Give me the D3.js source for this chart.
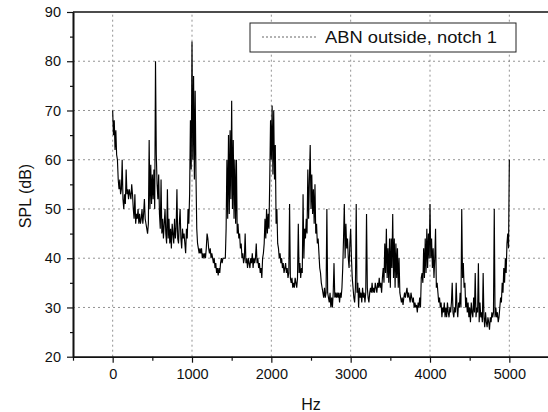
<!DOCTYPE html>
<html>
<head>
<meta charset="utf-8">
<script src="https://cdn.jsdelivr.net/npm/d3@7"></script>
<style>
  body { margin: 0; background: #fff; }
  text { font-family: "Liberation Sans", Arial, sans-serif; fill: #111; }
</style>
</head>
<body>
<div id="chart"></div>
<script>
// spectrum, one value per 10 Hz bin, 200 Hz per row
const binStart = 0;
const binStep = 10;
const splRows = [
  [70, 65, 68, 62, 66, 61, 60, 56, 54, 56, 53, 54, 60, 52, 50, 53, 51, 58, 53, 54],
  [52, 54, 53, 52, 55, 53, 50, 48, 53, 47, 49, 48, 50, 47, 49, 47, 48, 50, 47, 49],
  [52, 48, 47, 46, 45, 47, 64, 50, 59, 51, 57, 52, 58, 50, 80, 61, 55, 52, 57, 49],
  [46, 56, 45, 48, 44, 47, 50, 45, 43, 54, 44, 48, 43, 46, 42, 47, 45, 43, 48, 44],
  [46, 54, 44, 43, 47, 50, 44, 42, 46, 44, 45, 43, 41, 46, 44, 50, 47, 53, 68, 58],
  [84, 60, 77, 56, 74, 57, 46, 43, 42, 41, 42, 41, 42, 40, 41, 40, 41, 40, 42, 45],
  [44, 42, 41, 42, 40, 41, 40, 39, 40, 38, 39, 37, 38, 36.5, 38, 37, 39, 40, 39, 40],
  [40, 40, 40, 46, 60, 48, 65, 49, 66, 52, 72, 50, 64, 48, 60, 47, 60, 45, 47, 44],
  [45, 42, 43, 40, 41, 39, 40, 45, 39, 40, 38, 40, 39, 38, 40, 39, 41, 38, 40, 39],
  [40, 43, 39, 40, 38, 39, 37, 38, 36, 40, 41, 43, 48, 44, 50, 45, 49, 46, 56, 68],
  [60, 71, 57, 70, 56, 63, 47, 50, 43, 42, 40, 41, 39, 40, 38, 39, 37, 38, 39, 37],
  [38, 36, 37, 51, 36, 35, 36, 34, 35, 34, 36, 35, 34, 36, 47, 37, 39, 36, 38, 37],
  [53, 40, 46, 44, 48, 45, 58, 48, 56, 63, 50, 57, 49, 54, 47, 55, 45, 47, 43, 44],
  [41, 38, 37, 35, 34, 33, 32, 34, 32, 33, 50, 33, 32, 31, 33, 30, 32, 30, 33, 39],
  [32, 33, 32, 33, 32, 33, 31, 33, 32, 34, 38, 44, 51, 40, 47, 42, 44, 40, 38, 43],
  [46, 40, 36, 34, 32, 31, 34, 51, 33, 35, 30, 34, 32, 33, 31, 34, 32, 33, 31, 33],
  [49, 34, 32, 31, 33, 34, 33, 35, 33, 34, 33, 35, 34, 33, 35, 34, 36, 34, 35, 33],
  [36, 38, 35, 43, 37, 46, 36, 42, 35, 44, 34, 44, 38, 49, 36, 44, 34, 43, 36, 42],
  [34, 40, 33, 32, 31, 32, 30.5, 32, 33, 32, 33, 34, 32, 33, 32, 31, 33, 32, 31, 32],
  [30, 31, 30, 30.5, 29, 31, 30, 32, 30, 36, 37, 35, 42, 36, 44, 37, 46, 38, 45, 40],
  [51, 40, 44, 38, 42, 36, 40, 46, 34, 35, 33, 31, 32, 30, 31, 28, 30, 29, 31, 28],
  [30, 28, 31, 29, 28, 30, 29, 31, 35, 29, 28, 30, 29, 35, 30, 28, 31, 30, 33, 30],
  [50, 36, 39, 34, 35, 30, 32, 29, 31, 28, 30, 27, 31, 29, 28, 32, 29, 37, 28, 30],
  [29, 39, 27, 31, 28, 29, 27, 37, 28, 26, 29, 27, 26, 28, 27, 25.5, 28, 27, 29, 28],
  [29, 50, 28, 30, 28, 29, 27, 28, 30, 32, 31, 35, 33, 38, 35, 40, 37, 43, 45, 42],
  [60]
];
const spl = splRows.flat();

const xMajor = [0, 1000, 2000, 3000, 4000, 5000];
const xMinor = [-500, 500, 1500, 2500, 3500, 4500];
const yMajor = [20, 30, 40, 50, 60, 70, 80, 90];
const yMinor = [25, 35, 45, 55, 65, 75, 85];
const xGrid = [0, 1000, 2000, 3000, 4000, 5000];
const yGrid = [30, 40, 50, 60, 70, 80];
const legendLabel = "ABN outside, notch 1";

const W = 548, H = 412;
const plotLeft = 73, plotRight = 549, plotTop = 12, plotBottom = 356.7;

const svg = d3.select("#chart").append("svg")
    .attr("width", W)
    .attr("height", H);

const x = d3.scaleLinear().domain([-500, 5500]).range([plotLeft, plotRight]);
const y = d3.scaleLinear().domain([20, 90]).range([plotBottom, plotTop]);

// grid
svg.append("g").selectAll("line").data(xGrid).enter().append("line")
    .attr("x1", d => x(d)).attr("x2", d => x(d))
    .attr("y1", y(20)).attr("y2", y(90))
    .attr("stroke", "#777").attr("stroke-width", 0.8)
    .attr("stroke-dasharray", "2,3");
svg.append("g").selectAll("line").data(yGrid).enter().append("line")
    .attr("x1", x(-500)).attr("x2", x(5500))
    .attr("y1", d => y(d)).attr("y2", d => y(d))
    .attr("stroke", "#777").attr("stroke-width", 0.8)
    .attr("stroke-dasharray", "2,3");

// spectrum
const line = d3.line()
    .x((d, i) => x(binStart + i * binStep))
    .y(d => y(d));

svg.append("path")
    .datum(spl)
    .attr("d", line)
    .attr("fill", "none")
    .attr("stroke", "#000")
    .attr("stroke-width", 1.15)
    .attr("stroke-linejoin", "miter");

// frame top / right
svg.append("line").attr("x1", plotLeft).attr("x2", plotRight).attr("y1", plotTop).attr("y2", plotTop)
    .attr("stroke", "#111").attr("stroke-width", 1.4);
svg.append("line").attr("x1", plotRight).attr("x2", plotRight).attr("y1", plotTop).attr("y2", plotBottom)
    .attr("stroke", "#111").attr("stroke-width", 1.4);

// axes
const fmt = d3.format("d");
svg.append("g")
    .attr("transform", `translate(0,${plotBottom})`)
    .call(d3.axisBottom(x).tickValues(xMajor).tickFormat(fmt).tickSize(6).tickSizeOuter(0).tickPadding(6));
svg.append("g")
    .attr("transform", `translate(0,${plotBottom})`)
    .call(d3.axisBottom(x).tickValues(xMinor).tickSize(4).tickSizeOuter(0).tickFormat(""));

svg.append("g")
    .attr("transform", `translate(${plotLeft},0)`)
    .call(d3.axisLeft(y).tickValues(yMajor).tickFormat(fmt).tickSize(6).tickSizeOuter(0).tickPadding(6));
svg.append("g")
    .attr("transform", `translate(${plotLeft},0)`)
    .call(d3.axisLeft(y).tickValues(yMinor).tickSize(3).tickSizeOuter(0).tickFormat(""));

svg.selectAll(".domain").attr("stroke", "#111").attr("stroke-width", 1.6);
svg.selectAll(".tick line").attr("stroke", "#111").attr("stroke-width", 1.2);
svg.selectAll(".tick text")
    .style("font-size", "14.5px")
    .style("font-family", "'Liberation Sans', Arial, sans-serif")
    .attr("fill", "#111");

// axis titles
svg.append("text")
    .attr("x", 311).attr("y", 410)
    .attr("text-anchor", "middle")
    .style("font-size", "16px")
    .text("Hz");

svg.append("text")
    .attr("transform", "translate(31,196) rotate(-90)")
    .attr("text-anchor", "middle")
    .style("font-size", "16px")
    .text("SPL (dB)");

// legend
const lg = svg.append("g");
lg.append("rect")
    .attr("x", 250).attr("y", 23)
    .attr("width", 266).attr("height", 29)
    .attr("fill", "#fff")
    .attr("stroke", "#222").attr("stroke-width", 1);
lg.append("line")
    .attr("x1", 262).attr("x2", 318)
    .attr("y1", 37).attr("y2", 37)
    .attr("stroke", "#555").attr("stroke-width", 0.9)
    .attr("stroke-dasharray", "2,2");
lg.append("text")
    .attr("x", 325).attr("y", 43)
    .attr("textLength", 172)
    .attr("lengthAdjust", "spacingAndGlyphs")
    .style("font-size", "16px")
    .text(legendLabel);
</script>
</body>
</html>
